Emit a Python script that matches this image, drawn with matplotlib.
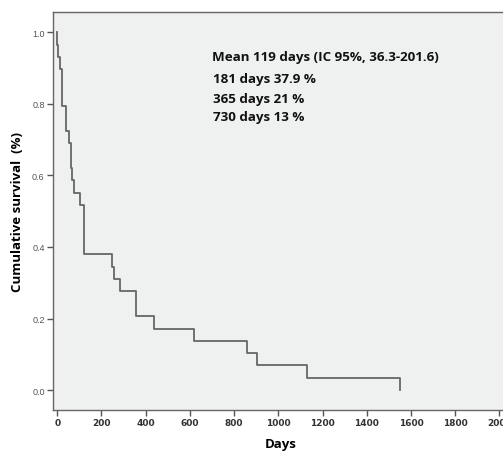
import matplotlib
matplotlib.use("Agg")
import matplotlib.pyplot as plt

# Kaplan-Meier step data (event day, survival after the event)
event_days = [0, 1, 5, 12, 20, 39, 53, 62, 68, 75, 103, 122, 250, 258, 285,
              356, 437, 620, 857, 902, 1128, 1551]
survival = [1.0, 0.966, 0.931, 0.897, 0.793, 0.724, 0.690, 0.621, 0.586, 0.552,
            0.517, 0.379, 0.345, 0.310, 0.276, 0.207, 0.172, 0.138, 0.103,
            0.069, 0.034, 0.0]
x_ticks = [0, 200, 400, 600, 800, 1000, 1200, 1400, 1600, 1800, 2000]
y_ticks = [0.0, 0.2, 0.4, 0.6, 0.8, 1.0]
annotation_lines = ["Mean 119 days (IC 95%, 36.3-201.6)",
                    "181 days 37.9 %",
                    "365 days 21 %",
                    "730 days 13 %"]

W, H = 503, 452
fig = plt.figure(figsize=(W / 100, H / 100), dpi=100)
fig.patch.set_facecolor("white")
ax = fig.add_axes([53 / W, 1 - 410.7 / H, (510 - 53) / W, (410.7 - 13) / H])
ax.set_facecolor("#eff0f0")

ax.step(event_days, survival, where="post", color="#666666", lw=1.3)

ax.set_xlim(-19, 2048)
ax.set_ylim(-0.055, 1.057)

for s in ax.spines.values():
    s.set_color("#666666")
    s.set_linewidth(1.0)

ax.set_xticks(x_ticks)
ax.set_xticklabels([str(v) for v in x_ticks],
                   family=["Liberation Sans Narrow", "DejaVu Sans"],
                   fontweight="bold", fontsize=6.5, color="#333333")
ax.set_yticks(y_ticks)
ax.set_yticklabels([f"{v:.1f}" for v in y_ticks], fontsize=6.5,
                   color="#555555", family=["Liberation Sans", "DejaVu Sans"])
ax.tick_params(axis="both", direction="out", length=4, width=1,
               color="#555555", pad=2)

fig.text(18 / W, 1 - 212 / H, "Cumulative survival  (%)", rotation=90,
         ha="center", va="center", fontsize=9.5, fontweight="bold",
         family=["Open Sans", "DejaVu Sans"])
fig.text(281 / W, 1 - 445 / H, "Days", ha="center", va="center",
         fontsize=9.5, fontweight="bold", family=["Open Sans", "DejaVu Sans"])

ys = [58, 79, 99, 118]
xs = [211.5, 213, 213, 213]
for t, x, y in zip(annotation_lines, xs, ys):
    fig.text(x / W, 1 - y / H, t, ha="left", va="center", fontsize=9.6,
             fontweight="bold", family=["Open Sans", "DejaVu Sans"],
             color="#111111")

fig.savefig("out.png", dpi=100)
